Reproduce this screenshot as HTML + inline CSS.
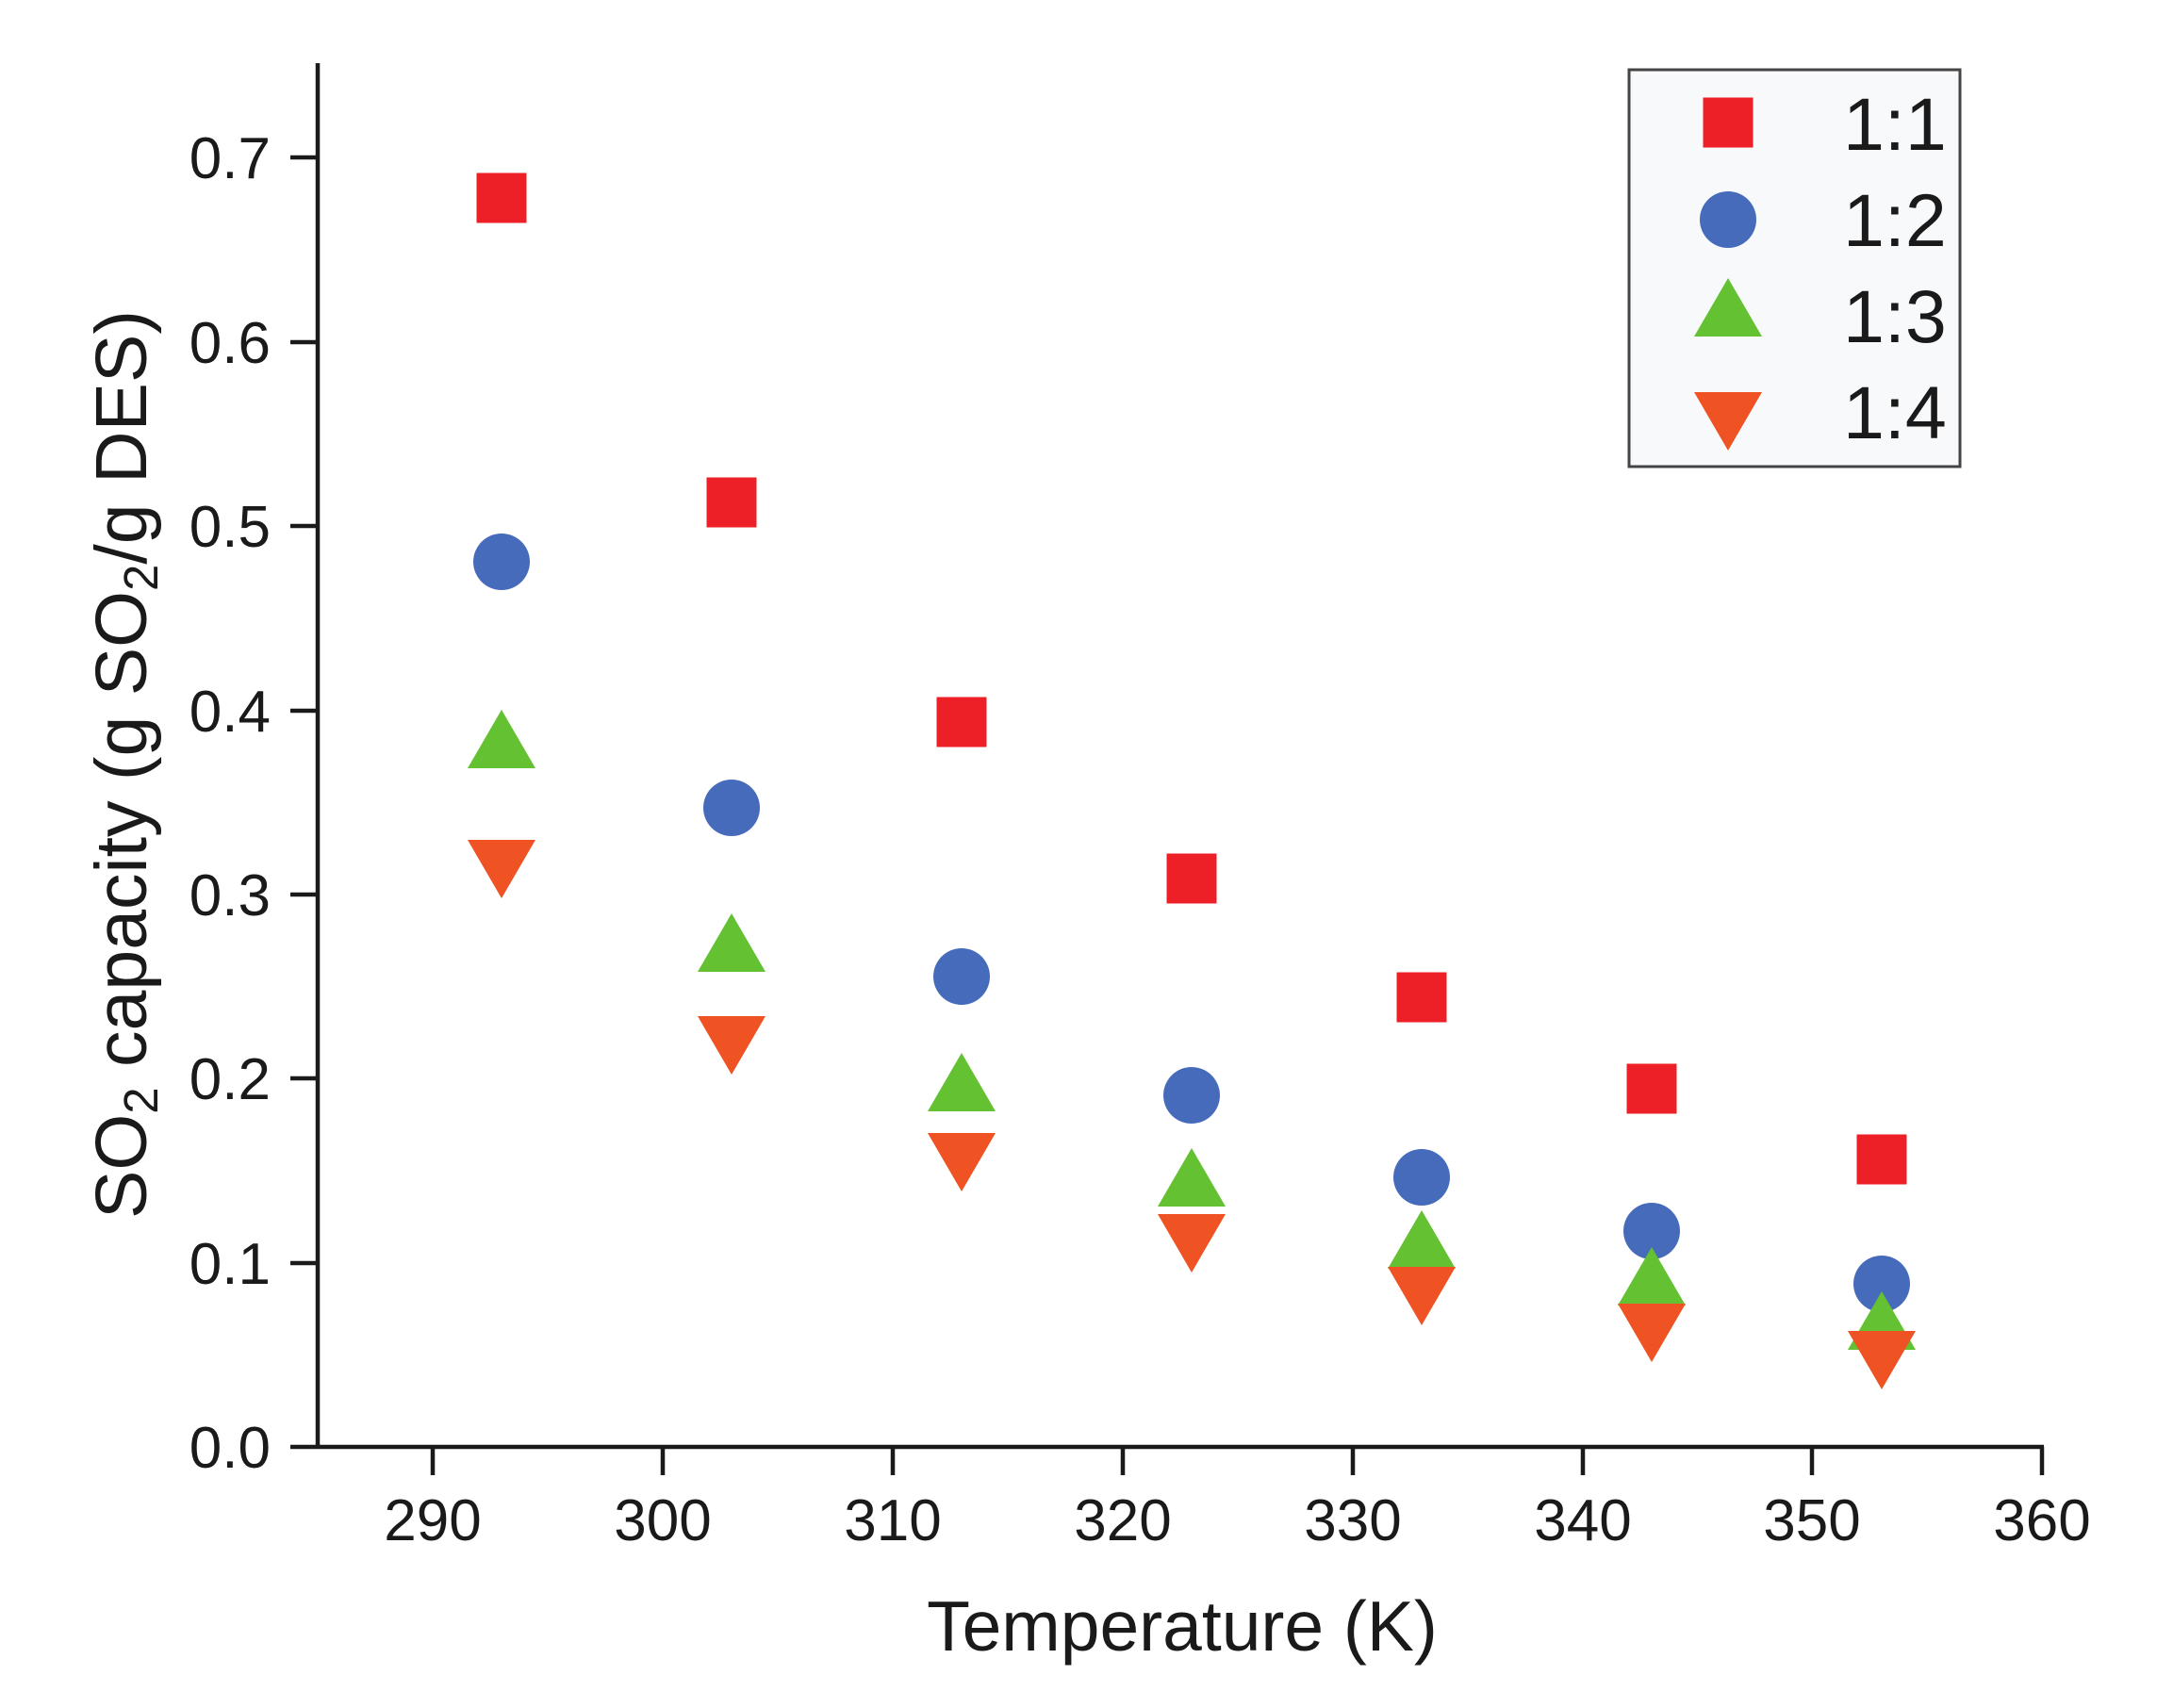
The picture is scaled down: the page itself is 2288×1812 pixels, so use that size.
<!DOCTYPE html>
<html><head><meta charset="utf-8"><style>body{margin:0;background:#fff}svg{display:block}</style></head>
<body>
<svg width="2288" height="1812" viewBox="0 0 2288 1812" xmlns="http://www.w3.org/2000/svg" font-family="Liberation Sans, Arial, sans-serif">
<defs>
<rect id="sq" x="-26.5" y="-26.5" width="53" height="53" fill="#ed1f27"/>
<circle id="ci" r="30" fill="#476bbb"/>
<polygon id="up" points="0,-31 36,31 -36,31" fill="#63c132"/>
<polygon id="dn" points="-36,-31 36,-31 0,31" fill="#ef5323"/>
</defs>
<g stroke="#1a1a1a" stroke-width="4.5" fill="none">
<line x1="337" y1="67" x2="337" y2="1537"/>
<line x1="308" y1="1535" x2="2168" y2="1535"/>
<line x1="308" y1="1144" x2="337" y2="1144"/>
<line x1="308" y1="949" x2="337" y2="949"/>
<line x1="308" y1="754" x2="337" y2="754"/>
<line x1="308" y1="558" x2="337" y2="558"/>
<line x1="308" y1="363" x2="337" y2="363"/>
<line x1="308" y1="167" x2="337" y2="167"/>
<line x1="308" y1="1340" x2="337" y2="1340"/>
<line x1="459" y1="1535" x2="459" y2="1565"/>
<line x1="703" y1="1535" x2="703" y2="1565"/>
<line x1="947" y1="1535" x2="947" y2="1565"/>
<line x1="1191" y1="1535" x2="1191" y2="1565"/>
<line x1="1435" y1="1535" x2="1435" y2="1565"/>
<line x1="1679" y1="1535" x2="1679" y2="1565"/>
<line x1="1922" y1="1535" x2="1922" y2="1565"/>
<line x1="2166" y1="1535" x2="2166" y2="1565"/>
</g>
<g font-size="62" fill="#1a1a1a" text-anchor="end">
<text x="287" y="1557">0.0</text>
<text x="287" y="1362">0.1</text>
<text x="287" y="1166">0.2</text>
<text x="287" y="971">0.3</text>
<text x="287" y="776">0.4</text>
<text x="287" y="580">0.5</text>
<text x="287" y="385">0.6</text>
<text x="287" y="189">0.7</text>
</g>
<g font-size="62" fill="#1a1a1a" text-anchor="middle">
<text x="459" y="1634">290</text>
<text x="703" y="1634">300</text>
<text x="947" y="1634">310</text>
<text x="1191" y="1634">320</text>
<text x="1435" y="1634">330</text>
<text x="1679" y="1634">340</text>
<text x="1922" y="1634">350</text>
<text x="2166" y="1634">360</text>
</g>
<text x="1254" y="1751" font-size="75" fill="#1a1a1a" text-anchor="middle">Temperature (K)</text>
<text transform="translate(155,811) rotate(-90)" font-size="77" fill="#1a1a1a" text-anchor="middle">SO<tspan font-size="51" dy="12">2</tspan><tspan dy="-12"> capacity (g SO</tspan><tspan font-size="51" dy="12">2</tspan><tspan dy="-12">/g DES)</tspan></text>
<!-- 1:1 -->
<use href="#sq" x="532" y="210"/><use href="#sq" x="776" y="533"/><use href="#sq" x="1020" y="766"/><use href="#sq" x="1264" y="932"/><use href="#sq" x="1508" y="1058"/><use href="#sq" x="1752" y="1155"/><use href="#sq" x="1996" y="1230"/>
<!-- 1:2 -->
<use href="#ci" x="532" y="596"/><use href="#ci" x="776" y="857"/><use href="#ci" x="1020" y="1036"/><use href="#ci" x="1264" y="1162"/><use href="#ci" x="1508" y="1249"/><use href="#ci" x="1752" y="1306"/><use href="#ci" x="1996" y="1362"/>
<!-- 1:3 -->
<use href="#up" x="532" y="784"/><use href="#up" x="776" y="1000"/><use href="#up" x="1020" y="1148"/><use href="#up" x="1264" y="1249"/><use href="#up" x="1508" y="1315"/><use href="#up" x="1752" y="1354"/><use href="#up" x="1996" y="1401"/>
<!-- 1:4 -->
<use href="#dn" x="532" y="922"/><use href="#dn" x="776" y="1109"/><use href="#dn" x="1020" y="1233"/><use href="#dn" x="1264" y="1319"/><use href="#dn" x="1508" y="1375"/><use href="#dn" x="1752" y="1414"/><use href="#dn" x="1996" y="1443"/>
<!-- legend -->
<rect x="1728" y="74" width="351" height="421" fill="#f7f9fb" stroke="#444" stroke-width="3"/>
<use href="#sq" x="1833" y="130"/>
<use href="#ci" x="1833" y="233"/>
<use href="#up" x="1833" y="326"/>
<use href="#dn" x="1833" y="447"/>
<g font-size="79" fill="#1a1a1a">
<text x="1955" y="159">1:1</text>
<text x="1955" y="261">1:2</text>
<text x="1955" y="363">1:3</text>
<text x="1955" y="465">1:4</text>
</g>
</svg>
</body></html>
